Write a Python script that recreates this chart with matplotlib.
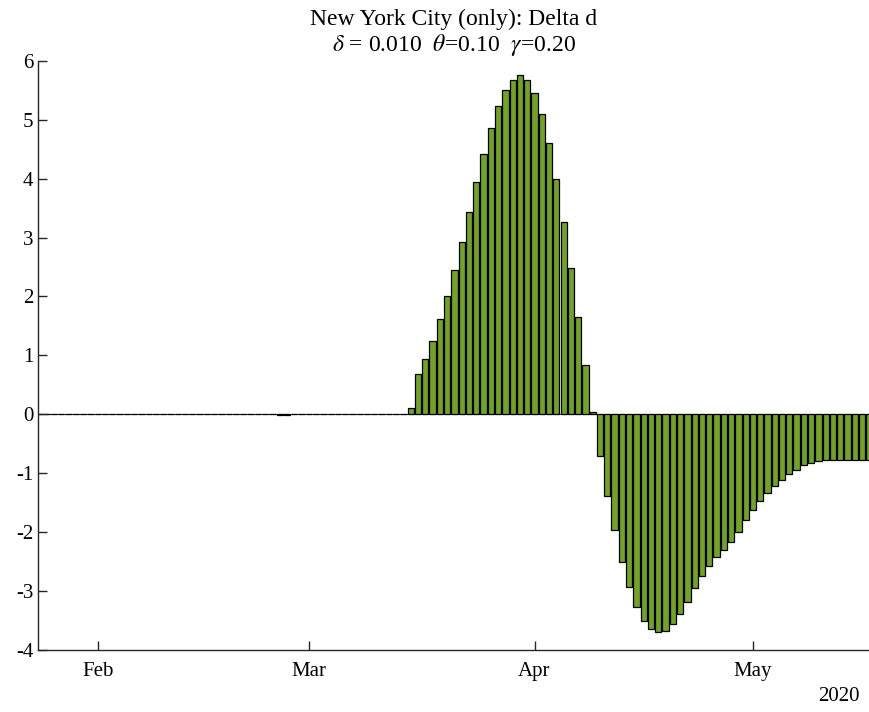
import numpy as np
import pandas as pd
import matplotlib
matplotlib.use("Agg")
import matplotlib.pyplot as plt
import matplotlib.dates as mdates

plt.rcParams['font.family'] = ['Liberation Serif', 'DejaVu Serif']
plt.rcParams['mathtext.fontset'] = 'stix'
plt.rcParams['axes.unicode_minus'] = False

# daily change in deaths, Jan 24 .. May 17 2020
dates = pd.date_range('2020-01-24', '2020-05-17', freq='D')

quiet = [0.0, 0.0, 0.0, 0.0, 0.0, 0.0, 0.0, 0.0,            # Jan 24-31
         0.0, 0.0, 0.0, 0.0, 0.0, 0.0, 0.0, 0.0, 0.0,       # Feb 1-9
         0.006, 0.006, 0.006, 0.006, 0.006, 0.006, 0.006,   # Feb 10-16
         0.006, 0.006, 0.006, 0.006, 0.006, 0.006, 0.006,   # Feb 17-23
         0.006, 0.006, -0.02, -0.02, 0.004, 0.004,          # Feb 24-29
         0.0, 0.0, 0.0, 0.0, 0.0, 0.0, 0.0,                 # Mar 1-7
         0.0, 0.0, 0.0, 0.0, 0.0, 0.0, 0.0]                 # Mar 8-14
rise = [0.10, 0.69, 0.94, 1.25, 1.61, 2.01, 2.45, 2.93, 3.43, 3.94,
        4.42, 4.86, 5.23, 5.51, 5.68, 5.75, 5.67, 5.46, 5.10, 4.61,
        3.99, 3.27, 2.48, 1.65, 0.83, 0.04]                 # Mar 15 - Apr 9
fall = [-0.70, -1.38, -1.97, -2.50, -2.93, -3.27, -3.51, -3.65, -3.70, -3.67,
        -3.56, -3.39, -3.18, -2.94, -2.75, -2.58, -2.43, -2.30, -2.17, -1.99,
        -1.80, -1.63, -1.48, -1.34, -1.22, -1.11, -1.02, -0.94, -0.86, -0.82,
        -0.80, -0.78, -0.77, -0.77, -0.78, -0.77, -0.77, -0.77]  # Apr 10 - May 17
delta_d = np.array(quiet + rise + fall)

title = 'New York City (only): Delta d\n' + r'$\delta$ = 0.010  $\theta$=0.10  $\gamma$=0.20'

fig = plt.figure(figsize=(8.7, 7.12), dpi=100)
ax = fig.add_axes([0.044, 0.0871, 0.955, 0.8276])

ax.bar(dates, delta_d, width=0.86, color='#72a12d', edgecolor='black', linewidth=0.9)
ax.axhline(0, color='#444444', linewidth=0.8, zorder=0)

ax.set_xlim(mdates.date2num(pd.Timestamp('2020-01-24')) - 0.16,
            mdates.date2num(pd.Timestamp('2020-05-17')) - 0.04)
ax.set_ylim(-4, 6)
ax.set_yticks(range(-4, 7))
ax.xaxis.set_major_locator(mdates.MonthLocator())
ax.xaxis.set_major_formatter(mdates.DateFormatter('%b'))

for side in ['top', 'right']:
    ax.spines[side].set_visible(False)
for side in ['left', 'bottom']:
    ax.spines[side].set_color('#262626')
    ax.spines[side].set_linewidth(1.0)

ax.tick_params(axis='both', direction='in', length=6.8, width=1.0,
               color='#262626', labelsize=15)
ax.tick_params(axis='x', pad=8.5)
ax.tick_params(axis='y', pad=3.5)

ax.set_title(title, fontsize=17, linespacing=1.1, pad=7)
ax.text(0.988, -0.062, '2020', transform=ax.transAxes, ha='right', va='top', fontsize=15)

fig.savefig('out.png', dpi=100)
